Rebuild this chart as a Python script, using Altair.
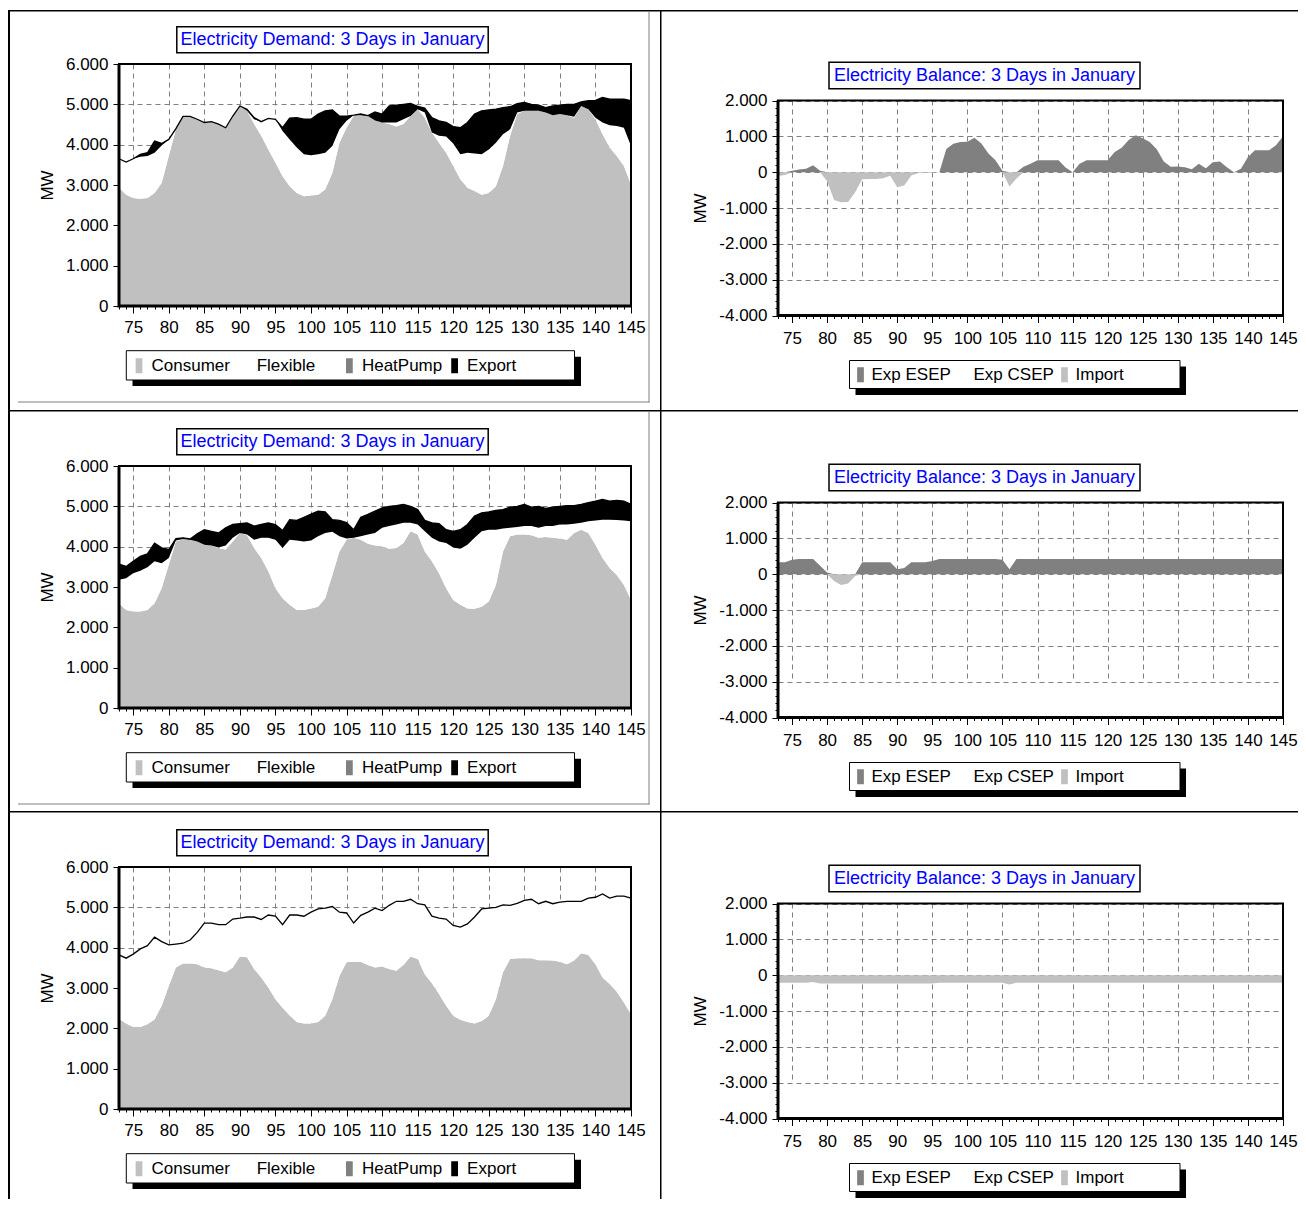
import altair as alt
import pandas as pd

# ---------------- data ----------------
HOURS = list(range(73, 146))

DEMAND_SERIES = ["Consumer", "Flexible", "HeatPump", "Export"]
DEMAND_COLORS = ["#c0c0c0", "#ffffff", "#808080", "#000000"]
BALANCE_SERIES = ["Exp ESEP", "Exp CSEP", "Import"]
BALANCE_COLORS = ["#808080", "#ffffff", "#c0c0c0"]

DEMAND_TITLE = "Electricity Demand: 3 Days in January"
BALANCE_TITLE = "Electricity Balance: 3 Days in January"
Y_TITLE = "MW"

# Row 1 demand: consumer level, top of flexible, top of export (MW)
consumer_1 = [2930, 2760, 2680, 2660, 2680, 2800, 3050, 3720, 4380, 4700,
              4700, 4630, 4550, 4570, 4510, 4420, 4710, 4960, 4840, 4510,
              4220, 3880, 3550, 3220, 2970, 2800, 2720, 2740, 2760, 2890,
              3300, 4050, 4420, 4710, 4730, 4710, 4600, 4550, 4510, 4450,
              4510, 4710, 4880, 4670, 4300, 4050, 3800, 3470, 3140, 2930,
              2850, 2760, 2800, 2970, 3470, 4220, 4760, 4840, 4840, 4840,
              4800, 4730, 4760, 4730, 4670, 4960, 4880, 4630, 4260, 3930,
              3720, 3470, 3010]
flextop_1 = [3650, 3570, 3650, 3700, 3720, 3800, 3980, 4130, 4380, 4700,
             4700, 4630, 4550, 4570, 4510, 4420, 4710, 4960, 4840, 4630,
             4570, 4650, 4630, 4340, 4130, 3930, 3760, 3740, 3760, 3800,
             3970, 4380, 4590, 4730, 4730, 4710, 4600, 4550, 4550, 4550,
             4630, 4710, 4880, 4800, 4300, 4220, 4200, 4030, 3760, 3800,
             3780, 3760, 3880, 4050, 4260, 4380, 4800, 4840, 4840, 4840,
             4800, 4730, 4760, 4730, 4690, 4960, 4880, 4670, 4550, 4480,
             4460, 4420, 3970]
total_1 = [3650, 3570, 3650, 3760, 3800, 4090, 4030, 4130, 4400, 4700,
           4700, 4630, 4550, 4570, 4510, 4420, 4710, 4960, 4880, 4670,
           4570, 4650, 4630, 4420, 4660, 4670, 4630, 4630, 4760, 4840,
           4860, 4710, 4710, 4730, 4760, 4720, 4810, 4760, 4960, 4980,
           5000, 5020, 4950, 4910, 4670, 4590, 4550, 4450, 4420, 4550,
           4760, 4840, 4860, 4880, 4920, 4940, 5020, 5050, 5000, 4980,
           4920, 4960, 4980, 5000, 5000, 5060, 5090, 5100, 5170, 5130,
           5130, 5130, 5090]

# Row 2 demand
consumer_2 = [2600, 2430, 2390, 2390, 2430, 2600, 2970, 3550, 4130, 4190,
              4170, 4130, 4050, 4030, 3970, 3930, 4130, 4340, 4280, 3970,
              3720, 3390, 2970, 2720, 2560, 2430, 2430, 2470, 2510, 2720,
              3300, 3880, 4170, 4220, 4170, 4070, 4030, 4010, 3950, 3970,
              4090, 4380, 4300, 3880, 3640, 3340, 2970, 2680, 2560, 2470,
              2460, 2510, 2640, 3050, 3880, 4260, 4300, 4300, 4280, 4220,
              4240, 4220, 4200, 4170, 4340, 4420, 4340, 4050, 3720, 3470,
              3300, 3050, 2680]
flextop_2 = [3180, 3220, 3340, 3400, 3490, 3640, 3590, 3720, 4150, 4190,
             4170, 4130, 4050, 4030, 3980, 4030, 4220, 4340, 4300, 4170,
             4220, 4220, 4170, 3970, 4170, 4150, 4130, 4150, 4260, 4340,
             4370, 4260, 4200, 4220, 4260, 4300, 4340, 4470, 4510, 4550,
             4590, 4590, 4550, 4380, 4220, 4130, 4090, 3980, 3950, 4050,
             4220, 4380, 4420, 4420, 4450, 4470, 4490, 4510, 4510, 4470,
             4510, 4510, 4550, 4550, 4570, 4590, 4630, 4650, 4670, 4670,
             4660, 4650, 4630]
total_2 = [3570, 3510, 3640, 3760, 3820, 4090, 3970, 3930, 4200, 4220,
           4190, 4320, 4420, 4380, 4340, 4470, 4550, 4570, 4590, 4510,
           4550, 4590, 4550, 4400, 4670, 4650, 4730, 4810, 4880, 4860,
           4670, 4650, 4600, 4420, 4730, 4800, 4880, 4960, 5000, 5020,
           5050, 5000, 4920, 4650, 4590, 4570, 4420, 4380, 4420, 4550,
           4760, 4840, 4860, 4900, 4920, 4980, 5000, 5050, 4980, 5000,
           4950, 4980, 5000, 5020, 5020, 5050, 5090, 5130, 5170, 5130,
           5150, 5130, 5050]

# Row 3 demand (no export: flexible reaches the total line)
consumer_3 = [2240, 2120, 2030, 2030, 2100, 2220, 2560, 3050, 3510, 3610,
              3610, 3590, 3510, 3490, 3440, 3390, 3510, 3780, 3760, 3470,
              3260, 3010, 2720, 2510, 2320, 2160, 2120, 2120, 2160, 2310,
              2720, 3300, 3640, 3650, 3650, 3570, 3510, 3530, 3470, 3430,
              3570, 3780, 3720, 3340, 3120, 2850, 2560, 2310, 2210, 2160,
              2120, 2180, 2310, 2720, 3390, 3720, 3740, 3740, 3740, 3690,
              3690, 3680, 3650, 3590, 3680, 3860, 3820, 3590, 3260, 3100,
              2910, 2640, 2350]
total_3 = [3820, 3740, 3840, 3970, 4050, 4260, 4150, 4070, 4090, 4110,
           4190, 4380, 4610, 4610, 4570, 4570, 4710, 4730, 4760, 4760,
           4700, 4810, 4780, 4570, 4810, 4810, 4780, 4880, 4960, 4980,
           5020, 4880, 4860, 4610, 4800, 4880, 4980, 4920, 5050, 5150,
           5150, 5200, 5090, 5060, 4780, 4730, 4710, 4550, 4510, 4590,
           4760, 4960, 4980, 5000, 5060, 5050, 5100, 5170, 5200, 5090,
           5150, 5090, 5130, 5150, 5150, 5150, 5230, 5250, 5330, 5230,
           5280, 5280, 5230]
flextop_3 = total_3

# Balance (positive = Exp ESEP, negative = Import), MW
balance_1 = [-110, -80, 40, 75, 95, 190, 40, -250, -780, -840,
             -830, -560, -200, -190, -190, -170, -100, -420, -370, -95,
             -20, -20, -20, 0, 650, 790, 840, 850, 960, 800,
             520, 330, 40, -400, -180, 150, 235, 330, 330, 330,
             330, 130, 0, 235, 330, 330, 330, 330, 560, 680,
             900, 1030, 950, 840, 640, 300, 150, 160, 140, 80,
             235, 110, 280, 300, 140, 0, 95, 420, 610, 610,
             610, 750, 1000]
balance_2 = [330, 330, 400, 420, 420, 420, 235, 50, -190, -300,
             -260, -50, 330, 330, 330, 330, 330, 140, 170, 330,
             330, 330, 370, 420, 420, 420, 420, 420, 420, 420,
             420, 420, 400, 140, 420, 420, 420, 420, 420, 420,
             420, 420, 420, 420, 420, 420, 420, 420, 420, 420,
             420, 420, 420, 420, 420, 420, 420, 420, 420, 420,
             420, 420, 420, 420, 420, 420, 420, 420, 420, 420,
             420, 420, 420]
balance_3 = [-210, -210, -210, -210, -210, -190, -230, -230, -230, -230,
             -230, -230, -230, -230, -230, -230, -230, -230, -230, -230,
             -230, -230, -230, -210, -210, -210, -210, -210, -210, -210,
             -210, -210, -210, -260, -210, -210, -210, -210, -210, -210,
             -210, -210, -210, -210, -210, -210, -210, -210, -210, -210,
             -210, -210, -210, -210, -210, -210, -210, -210, -210, -210,
             -210, -210, -210, -210, -210, -210, -210, -210, -210, -210,
             -210, -210, -210]

# ---------------- styling ----------------
FONT = "Liberation Sans"
ONE = pd.DataFrame({"k": [0]})
BAR_SYMBOL = "M-0.45,-1H0.45V1H-0.45Z"
Y_FMT = "(datum.value < 0 ? '-' : '') + replace(format(abs(datum.value), ','), ',', '.')"
GRID_DASH = [5, 4]

# layout (pixels): both panels of a row share the same view origin
LW, LH = 512, 242            # demand plot
RW, RV, RP = 505, 251.5, 36.5  # balance: width, view height, top of plot inside view
CELL_T = 56                   # from cell top to view origin
LEFT_L, LEFT_R = 111, 29
RIGHT_L, RIGHT_R = 118, 15


def rect(x1, x2, y1, y2, **kw):
    return alt.Chart(ONE).mark_rect(**kw).encode(
        x=alt.value(x1), x2=alt.value(x2), y=alt.value(y1), y2=alt.value(y2))


def text(x, y, s, **kw):
    return alt.Chart(ONE).mark_text(**kw).encode(
        x=alt.value(x), y=alt.value(y), text=alt.value(s))


def x_axis(label_pad):
    return alt.Axis(
        values=HOURS, title=None, domain=False,
        labelExpr="datum.value % 5 === 0 ? datum.label : ''",
        tickSize={"condition": {"test": "datum.value % 5 === 0", "value": 7}, "value": 3},
        tickColor="black", tickWidth=1,
        grid=True, gridColor="#808080", gridDash=GRID_DASH, gridWidth=1,
        gridOpacity={"condition": {"test": "datum.value % 5 === 0", "value": 1}, "value": 0},
        labelFont=FONT, labelFontSize=17, labelColor="black", labelPadding=label_pad,
        labelOverlap=False, labelFlush=False, labelBound=False)


def y_axis(values, major, title_x, title_y):
    return alt.Axis(
        values=values, title=Y_TITLE, titleX=title_x, titleY=title_y, titleAngle=270,
        titleAlign="center", titleBaseline="middle", titleFont=FONT, titleFontSize=17,
        titleFontWeight="normal", titleColor="black", domain=False,
        labelExpr=f"datum.value % {major} === 0 ? ({Y_FMT}) : ''",
        tickSize={"condition": {"test": f"datum.value % {major} === 0", "value": 6}, "value": 3},
        tickColor="black", tickWidth=1,
        grid=True, gridColor="#808080", gridDash=GRID_DASH, gridWidth=1,
        gridOpacity={"condition": {"test": f"datum.value % {major} === 0", "value": 1}, "value": 0},
        labelFont=FONT, labelFontSize=17, labelColor="black", labelPadding=5,
        labelOverlap=False, labelFlush=False, labelBound=False)


def frame(W, y0, y1):
    return [
        rect(0, W, y0, y1, fillOpacity=0, stroke="black", strokeWidth=2),
        rect(-1.5, 1.5, y0, y1 + 1.5, color="black"),
        rect(0, W, y1 - 1.5, y1 + 1.5, color="black"),
    ]


def demand_panel(consumer, flex_top, total, cell_bottom, first_row):
    W, H = LW, LH
    rows, tops = [], []
    for h, c, f, t in zip(HOURS, consumer, flex_top, total):
        f = max(f, c)
        t = max(t, f)
        rows.append({"hour": h, "series": "Consumer", "lo": 0, "hi": c})
        rows.append({"hour": h, "series": "Flexible", "lo": c, "hi": f})
        rows.append({"hour": h, "series": "Export", "lo": f, "hi": t})
        tops.append({"hour": h, "hi": t})
    area_df = pd.DataFrame(rows)
    line_df = pd.DataFrame(tops)

    xenc = alt.X("hour:Q", scale=alt.Scale(domain=[73, 145], nice=False, zero=False),
                 axis=x_axis(6))
    yenc = alt.Y("hi:Q", scale=alt.Scale(domain=[0, 6000], nice=False), stack=None,
                 axis=y_axis([0, 1000, 2000, 3000, 4000, 5000, 6000], 1000, -72, H / 2))
    legend = alt.Legend(
        title=None, orient="none", legendX=11.5, legendY=293, direction="horizontal",
        columns=4, gridAlign="all", columnPadding=3.2, symbolType=BAR_SYMBOL, symbolSize=225,
        symbolStrokeWidth=0, symbolOpacity=1, labelFont=FONT, labelFontSize=17,
        labelColor="black", labelOffset=4, labelLimit=300, padding=0)
    areas = alt.Chart(area_df).mark_area(opacity=1, interpolate="linear").encode(
        x=xenc, y=yenc, y2="lo:Q",
        color=alt.Color("series:N", scale=alt.Scale(domain=DEMAND_SERIES, range=DEMAND_COLORS),
                        legend=legend))
    line = alt.Chart(line_df).mark_line(color="black", strokeWidth=1.3,
                                        interpolate="linear").encode(x=xenc, y=yenc)

    top = -54 if first_row else -56
    layers = [
        rect(-LEFT_L, W + LEFT_R, -CELL_T, cell_bottom, opacity=0),
        areas, line,
    ] + frame(W, 0, H) + [
        rect(57.8, 369.2, -37.3, -11.3, fill="white", stroke="black", strokeWidth=1.5),
        text(213.5, -24.3, DEMAND_TITLE, font=FONT, fontSize=18, color="#0000ff",
             align="center", baseline="middle"),
        rect(13.5, 462, 292.7, 322, color="black"),
        rect(7.3, 455.5, 286.7, 316, fill="white", stroke="black", strokeWidth=1),
        rect(-LEFT_L, -LEFT_L + 2, top, cell_bottom, color="black"),
        rect(-LEFT_L, W + LEFT_R, top, top + 1.5, color="black"),
    ]
    if cell_bottom > 340:
        layers += [
            rect(-101, 530.5, 337.5, 338.5, color="#808080"),
            rect(529.5, 530.5, top + 2, 338.5, color="#808080"),
        ]
    return alt.layer(*layers).properties(width=W, height=H)


def balance_panel(net, cell_bottom, first_row):
    W = RW
    rows = []
    for h, v in zip(HOURS, net):
        rows.append({"hour": h, "series": "Exp ESEP", "lo": 0, "hi": max(v, 0)})
        rows.append({"hour": h, "series": "Import", "lo": min(v, 0), "hi": 0})
    area_df = pd.DataFrame(rows)

    xenc = alt.X("hour:Q", scale=alt.Scale(domain=[73, 145], nice=False, zero=False),
                 axis=x_axis(8))
    yenc = alt.Y("hi:Q",
                 scale=alt.Scale(domain=[-4000, 2000], nice=False, zero=False, range=[RV, RP]),
                 stack=None,
                 axis=y_axis(list(range(-4000, 2001, 200)), 1000, -78, (RV + RP) / 2))
    legend = alt.Legend(
        title=None, orient="none", legendX=74, legendY=265.5 + RP, direction="horizontal",
        columns=3, gridAlign="all", columnPadding=2, symbolType=BAR_SYMBOL, symbolSize=225,
        symbolStrokeWidth=0, symbolOpacity=1, labelFont=FONT, labelFontSize=17,
        labelColor="black", labelOffset=2.5, labelLimit=300, padding=0)
    areas = alt.Chart(area_df).mark_area(opacity=1, interpolate="linear").encode(
        x=xenc, y=yenc, y2="lo:Q",
        color=alt.Color("series:N", scale=alt.Scale(domain=BALANCE_SERIES, range=BALANCE_COLORS),
                        legend=legend))

    top = -54 if first_row else -56
    layers = [
        rect(-RIGHT_L, W + RIGHT_R, -CELL_T, cell_bottom, opacity=0),
        areas,
        # blank band above the plot (hides vertical grid lines there)
        rect(-0.5, W + 2, -1, RP - 1, color="white"),
    ] + frame(W, RP, RV) + [
        rect(51, 362, -38.3 + RP, -11.7 + RP, fill="white", stroke="black", strokeWidth=1.5),
        text(206.5, -25 + RP, BALANCE_TITLE, font=FONT, fontSize=18, color="#0000ff",
             align="center", baseline="middle"),
        rect(77.5, 408, 266 + RP, 294.5 + RP, color="black"),
        rect(71.5, 402, 260 + RP, 288 + RP, fill="white", stroke="black", strokeWidth=1),
        rect(-RIGHT_L, -RIGHT_L + 1.5, top, cell_bottom, color="black"),
        rect(-RIGHT_L, W + RIGHT_R, top, top + 1.5, color="black"),
    ]
    return alt.layer(*layers).properties(width=W, height=RV)


row1 = alt.hconcat(demand_panel(consumer_1, flextop_1, total_1, 346, True),
                   balance_panel(balance_1, 346, True), spacing=0
                   ).resolve_scale(color="independent")
row2 = alt.hconcat(demand_panel(consumer_2, flextop_2, total_2, 345, False),
                   balance_panel(balance_2, 345, False), spacing=0
                   ).resolve_scale(color="independent")
row3 = alt.hconcat(demand_panel(consumer_3, flextop_3, total_3, 332, False),
                   balance_panel(balance_3, 332, False), spacing=0
                   ).resolve_scale(color="independent")

chart = (alt.vconcat(row1, row2, row3, spacing=0)
         .resolve_scale(color="independent")
         .properties(padding=0, background="white")
         .configure(font=FONT)
         .configure_view(strokeWidth=0))

chart.save("out.html", embed_options={"renderer": "svg", "actions": False})
